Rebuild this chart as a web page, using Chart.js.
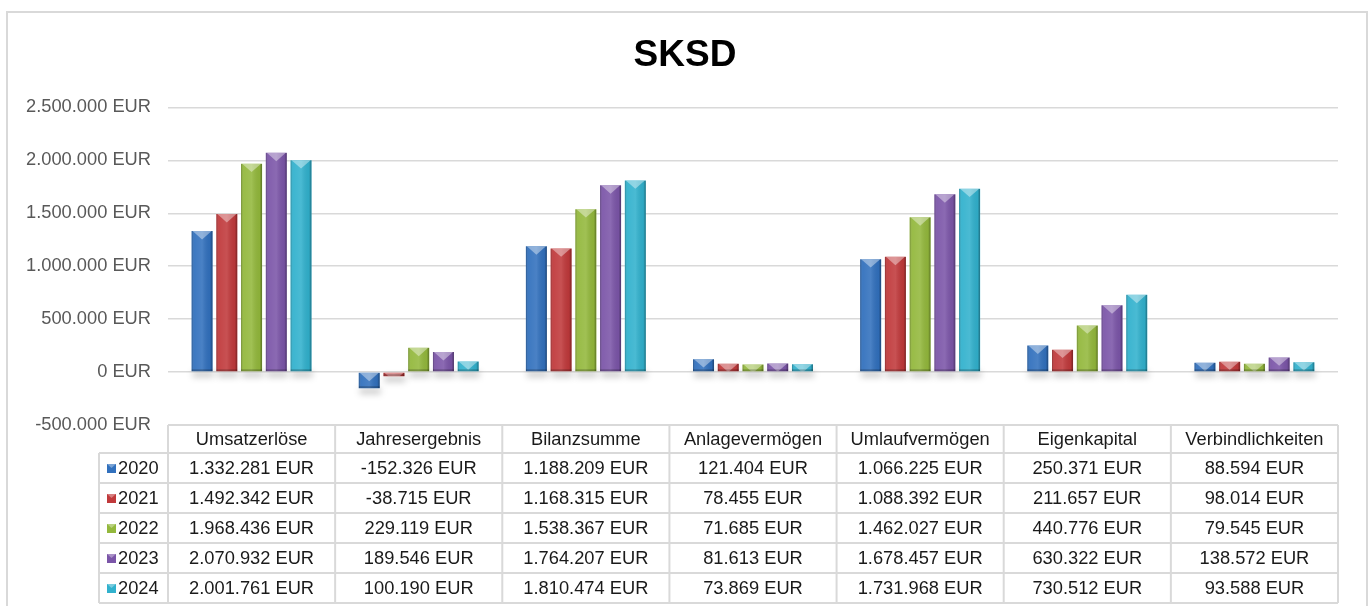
<!DOCTYPE html>
<html>
<head>
<meta charset="utf-8">
<script src="https://cdn.jsdelivr.net/npm/chart.js@4/dist/chart.umd.min.js"></script>
<style>
  html, body { margin: 0; padding: 0; background: #fff; }
  #wrap { width: 1370px; height: 606px; }
</style>
</head>
<body>
<div id="wrap"><canvas id="chart"></canvas></div>
<script>
const categories = ['Umsatzerlöse', 'Jahresergebnis', 'Bilanzsumme', 'Anlagevermögen', 'Umlaufvermögen', 'Eigenkapital', 'Verbindlichkeiten'];
const years = ['2020', '2021', '2022', '2023', '2024'];
const values2020 = [1332281, -152326, 1188209, 121404, 1066225, 250371, 88594];
const values2021 = [1492342, -38715, 1168315, 78455, 1088392, 211657, 98014];
const values2022 = [1968436, 229119, 1538367, 71685, 1462027, 440776, 79545];
const values2023 = [2070932, 189546, 1764207, 81613, 1678457, 630322, 138572];
const values2024 = [2001761, 100190, 1810474, 73869, 1731968, 730512, 93588];
const yTicks = [-500000, 0, 500000, 1000000, 1500000, 2000000, 2500000];

const seriesValues = [values2020, values2021, values2022, values2023, values2024];
const colors = ['#3170bd', '#c0393b', '#93b83c', '#7b55a8', '#31b1cd'];
const FONT = '"Liberation Sans", Arial, sans-serif';

// 1332281 -> "1.332.281 EUR"
function eur(v) {
  const s = Math.abs(Math.round(v)).toString().replace(/\B(?=(\d{3})+(?!\d))/g, '.');
  return (v < 0 ? '-' : '') + s + ' EUR';
}

const frame = {
  id: 'frame',
  beforeDraw(chart) {
    const ctx = chart.ctx;
    ctx.save();
    ctx.fillStyle = '#fff';
    ctx.fillRect(0, 0, chart.width, chart.height);
    ctx.strokeStyle = '#d9d9d9';
    ctx.lineWidth = 2;
    ctx.strokeRect(7, 12, 1360, 700);
    ctx.restore();
  }
};

function barBox(bar) {
  const p = bar.getProps(['x', 'y', 'base', 'width'], true);
  const left = p.x - p.width / 2;
  const top = Math.min(p.y, p.base);
  const h = Math.abs(p.base - p.y);
  return { x: p.x, left, right: left + p.width, top, bottom: top + h, w: p.width, h, base: p.base };
}

// soft shadow under bars + bevel highlights on top of them
const bevel = {
  id: 'bevel',
  beforeDatasetsDraw(chart) {
    const ctx = chart.ctx;
    ctx.save();
    ctx.filter = 'blur(3px)';
    ctx.fillStyle = 'rgba(0,0,0,0.2)';
    chart.data.datasets.forEach((ds, i) => {
      chart.getDatasetMeta(i).data.forEach(bar => {
        const b = barBox(bar);
        ctx.fillRect(b.left + 1, b.bottom, b.w, 6);
      });
    });
    ctx.restore();
  },
  afterDatasetsDraw(chart) {
    const ctx = chart.ctx;
    chart.data.datasets.forEach((ds, i) => {
      chart.getDatasetMeta(i).data.forEach(bar => {
        const b = barBox(bar);
        if (b.h < 1) return;
        ctx.save();
        ctx.beginPath();
        ctx.rect(b.left, b.top, b.w, b.h);
        ctx.clip();
        const g = ctx.createLinearGradient(b.left, 0, b.right, 0);
        g.addColorStop(0, 'rgba(0,0,0,0.28)');
        g.addColorStop(0.12, 'rgba(255,255,255,0.06)');
        g.addColorStop(0.5, 'rgba(255,255,255,0.12)');
        g.addColorStop(0.88, 'rgba(0,0,0,0.05)');
        g.addColorStop(1, 'rgba(0,0,0,0.38)');
        ctx.fillStyle = g;
        ctx.fillRect(b.left, b.top, b.w, b.h);
        const d = b.w * 0.4;
        ctx.fillStyle = 'rgba(255,255,255,0.4)';
        ctx.beginPath();
        ctx.moveTo(b.left + 1, b.top);
        ctx.lineTo(b.right - 1, b.top);
        ctx.lineTo(b.x, b.top + d);
        ctx.closePath();
        ctx.fill();
        ctx.fillStyle = 'rgba(0,0,0,0.22)';
        ctx.fillRect(b.left, b.bottom - 2, b.w, 2);
        ctx.restore();
      });
    });
  }
};

// data table below the plot
const dataTable = {
  id: 'dataTable',
  afterDraw(chart) {
    const ctx = chart.ctx;
    const xs = chart.scales.x;
    const area = chart.chartArea;
    const headH = 28, rowH = 30;
    const top = area.bottom;
    const legendLeft = area.left - 69;
    const bottom = top + headH + rowH * years.length;
    ctx.save();
    ctx.strokeStyle = '#d9d9d9';
    ctx.lineWidth = 2;
    ctx.beginPath();
    ctx.moveTo(area.left, top); ctx.lineTo(area.right, top);
    for (let r = 0; r <= years.length; r++) {
      const y = top + headH + r * rowH;
      ctx.moveTo(legendLeft, y); ctx.lineTo(area.right, y);
    }
    ctx.moveTo(legendLeft, top + headH); ctx.lineTo(legendLeft, bottom);
    for (let c = 0; c <= categories.length; c++) {
      const x = xs.getPixelForValue(c - 0.5);
      ctx.moveTo(x, top); ctx.lineTo(x, bottom);
    }
    ctx.stroke();

    ctx.font = '18.3px ' + FONT;
    ctx.fillStyle = '#1a1a1a';
    ctx.textAlign = 'center';
    ctx.textBaseline = 'middle';
    categories.forEach((cat, c) => {
      ctx.fillText(cat, xs.getPixelForValue(c), top + headH / 2 + 1);
    });
    years.forEach((yr, r) => {
      const cy = top + headH + r * rowH + rowH / 2 + 1;
      seriesValues[r].forEach((v, c) => {
        ctx.fillText(eur(v), xs.getPixelForValue(c), cy);
      });
      // legend key
      const kx = legendLeft + 8, ky = cy - 5;
      ctx.fillStyle = colors[r];
      ctx.fillRect(kx, ky, 9, 9);
      ctx.fillStyle = 'rgba(255,255,255,0.35)';
      ctx.beginPath();
      ctx.moveTo(kx, ky); ctx.lineTo(kx + 9, ky); ctx.lineTo(kx + 4.5, ky + 4);
      ctx.closePath(); ctx.fill();
      ctx.fillStyle = '#1a1a1a';
      ctx.textAlign = 'left';
      ctx.fillText(yr, kx + 11, cy);
      ctx.textAlign = 'center';
    });
    ctx.restore();
  }
};

new Chart(document.getElementById('chart'), {
  type: 'bar',
  data: {
    labels: categories,
    datasets: years.map((yr, i) => ({
      label: yr,
      data: seriesValues[i],
      backgroundColor: colors[i],
      borderWidth: 0,
      barPercentage: 0.85,
      categoryPercentage: 0.74
    }))
  },
  options: {
    responsive: true,
    maintainAspectRatio: false,
    animation: false,
    layout: { padding: { left: 0, right: 0, top: 8, bottom: 181 } },
    plugins: {
      legend: { display: false },
      tooltip: { enabled: false },
      title: {
        display: true,
        text: 'SKSD',
        color: '#000',
        font: { family: FONT, size: 37, weight: 'bold' },
        padding: { top: 26, bottom: 29 }
      }
    },
    scales: {
      x: {
        display: false
      },
      y: {
        min: -500000,
        max: 2500000,
        afterBuildTicks(scale) {
          scale.ticks = yTicks.map(v => ({ value: v }));
        },
        afterFit(scale) { scale.width = 168; },
        border: { display: false },
        grid: { color: '#d9d9d9', lineWidth: 1.5, drawTicks: false },
        ticks: {
          padding: 17,
          color: '#595959',
          font: { family: FONT, size: 18.3 },
          callback: v => eur(v)
        }
      },
      // empty spacer on the right so the plot ends where the reference does
      yRight: {
        position: 'right',
        display: true,
        afterFit(scale) { scale.width = 32; },
        border: { display: false },
        grid: { display: false },
        ticks: { display: false }
      }
    }
  },
  plugins: [frame, bevel, dataTable]
});
</script>
</body>
</html>
